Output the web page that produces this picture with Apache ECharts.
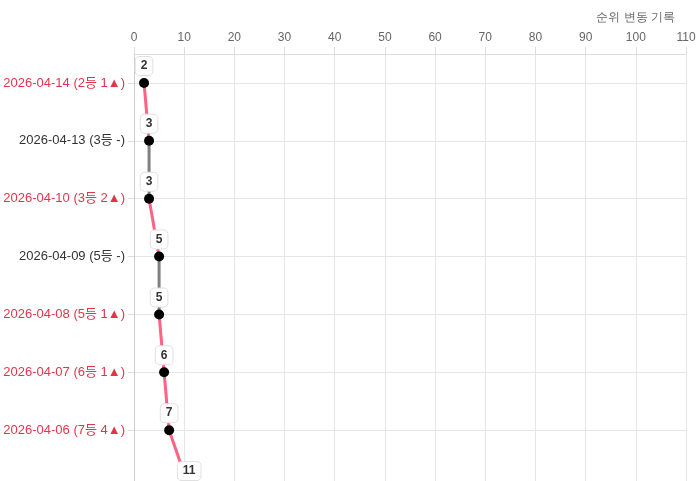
<!DOCTYPE html>
<html><head><meta charset="utf-8">
<script src="https://cdn.jsdelivr.net/npm/echarts@6/dist/echarts.min.js"></script>
<style>html,body{margin:0;padding:0;background:#fff}#c{width:700px;height:481px}</style>
</head><body><div id="c"></div>
<script>
const dates = ['2026-04-14','2026-04-13','2026-04-10','2026-04-09','2026-04-08','2026-04-07','2026-04-06','2026-04-03'];
const ranks = [2,3,3,5,5,6,7,11];
const changes = [1,0,2,0,1,1,4,0];
const xTicks = {min:0, max:110, interval:10};
const axisName = '순위 변동 기록';

const categories = dates.map((d,i)=> `${d} (${ranks[i]}등 ${changes[i]>0 ? changes[i]+'▲' : '-'})`);
const up = '#ff6384', flat = '#808080', red = '#e0354b';
const font = "'Liberation Sans', 'Noto Sans CJK KR', sans-serif";

const series = [];
for (let i=0;i<ranks.length-1;i++){
  series.push({
    type:'line', silent:true, showSymbol:false, symbol:'none', z:1,
    lineStyle:{width:3, color: changes[i]>0 ? up : flat},
    data:[[ranks[i], categories[i]],[ranks[i+1], categories[i+1]]]
  });
}
series.push({
  type:'scatter', z:5, symbolSize:10,
  itemStyle:{color:'#000', opacity:1},
  data: ranks.map((r,i)=>[r, categories[i]]),
  label:{show:true, position:'top', distance:3, formatter:p=>p.value[0],
    color:'#333', fontWeight:'bold', fontSize:12, fontFamily:font,
    backgroundColor:'#fff', borderColor:'#e0e0e0', borderWidth:1, borderRadius:4,
    padding:[3,5,3,5]}
});

const chart = echarts.init(document.getElementById('c'));
chart.setOption({
  animation:false,
  grid:{left:134, top:54, right:14, height:463, containLabel:false, outerBoundsMode:'none'},
  xAxis:{type:'value', position:'top', min:xTicks.min, max:xTicks.max, interval:xTicks.interval,
    name:axisName, nameLocation:'end', nameGap:-11,
    nameTextStyle:{color:'#666', fontSize:12, align:'right', verticalAlign:'bottom', padding:[0,0,30,0]},
    axisLine:{show:true, lineStyle:{color:'#ddd'}},
    axisTick:{show:true, length:7, lineStyle:{color:'#ddd'}},
    axisLabel:{color:'#666', fontSize:12, fontFamily:font, margin:10},
    splitLine:{show:true, lineStyle:{color:'#e6e6e6'}}
  },
  yAxis:{type:'category', inverse:true, data:categories, boundaryGap:true,
    axisLine:{show:true, lineStyle:{color:'#ccc'}},
    axisTick:{show:true, alignWithLabel:true, length:6, lineStyle:{color:'#ddd'}},
    axisLabel:{fontSize:13, fontFamily:font, margin:9, color:(v,i)=> changes[i]>0 ? red : '#333'},
    splitLine:{show:true, alignWithLabel:true, lineStyle:{color:'#e6e6e6'}}
  },
  series
});
</script></body></html>
